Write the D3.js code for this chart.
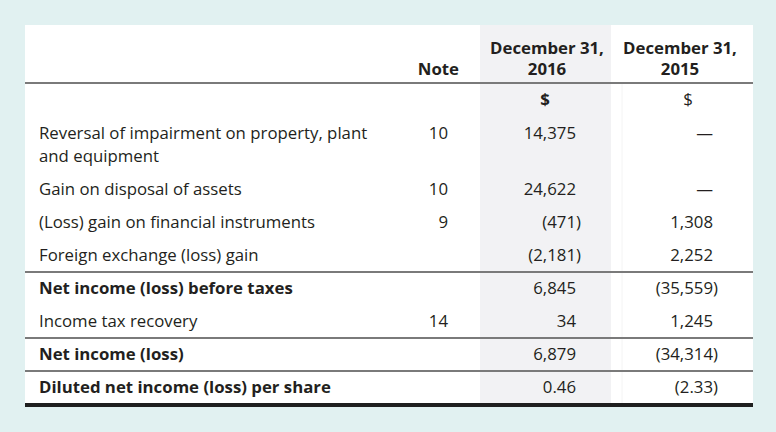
<!DOCTYPE html>
<html><head><meta charset="utf-8">
<script src="https://cdn.jsdelivr.net/npm/d3@7"></script>
<style>html,body{margin:0;padding:0;background:#e1f1f1;}svg{display:block;}</style>
</head><body>
<script>
// ---- data ----
const headers = ["Note", "December 31,\n2016", "December 31,\n2015"];
const currencyRow = ["$", "$"];
const labels = [
  "Reversal of impairment on property, plant\nand equipment",
  "Gain on disposal of assets",
  "(Loss) gain on financial instruments",
  "Foreign exchange (loss) gain",
  "Net income (loss) before taxes",
  "Income tax recovery",
  "Net income (loss)",
  "Diluted net income (loss) per share"
];
const notes = ["10", "10", "9", "", "", "14", "", ""];
const values2016 = [14375, 24622, -471, -2181, 6845, 34, 6879, 0.46];
const values2015 = [null, null, 1308, 2252, -35559, 1245, -34314, -2.33];
const boldRows = [false, false, false, false, true, false, true, true];
const ruleAfter = [false, false, false, true, false, true, true, false];
const perShare = [false, false, false, false, false, false, false, true];

// ---- layout ----
const W = 776, H = 432;
const font = "'Open Sans', sans-serif";
const fs = 16.8, lineH = 23, pitch = 33;
const ink = "#231f20";
const panel = {x: 25, y: 25, w: 728};
const colShade = {x0: 480, x1: 611};
const noteRight = 448, v16Right = 576, v15Right = 713;
const labelX = 39;

const svg = d3.select("body").append("svg").attr("width", W).attr("height", H);
svg.append("rect").attr("width", W).attr("height", H).attr("fill", "#e1f1f1");

// compute baselines
const baselines = [];
let y = 105 + 34;
labels.forEach((l, i) => {
  baselines.push(y);
  const nLines = l.split("\n").length;
  y += (nLines - 1) * lineH + pitch;
});
const bottomRule = baselines[baselines.length - 1] + 12;

svg.append("rect").attr("x", panel.x).attr("y", panel.y).attr("width", panel.w)
  .attr("height", bottomRule - panel.y).attr("fill", "#ffffff");
svg.append("rect").attr("x", colShade.x0).attr("y", panel.y).attr("width", colShade.x1 - colShade.x0)
  .attr("height", bottomRule - panel.y).attr("fill", "#f2f2f4");
svg.append("line").attr("x1", 622).attr("x2", 622).attr("y1", 84).attr("y2", bottomRule)
  .attr("stroke", "#f4f4f4").attr("stroke-width", 1);

const g = svg.append("g").attr("font-family", font).attr("font-size", fs).attr("fill", ink);

// header
const headerLine = 83;
g.append("text").attr("x", noteRight + 11).attr("y", 75).attr("text-anchor", "end")
  .attr("font-weight", 700).text(headers[0]);
[[headers[1], 547], [headers[2], 680]].forEach(([t, cx]) => {
  const tx = g.append("text").attr("text-anchor", "middle").attr("font-weight", 700);
  t.split("\n").forEach((s, k) => tx.append("tspan").attr("x", cx).attr("y", 54 + k * 21).text(s));
});
svg.append("line").attr("x1", panel.x).attr("x2", panel.x + panel.w).attr("y1", headerLine).attr("y2", headerLine)
  .attr("stroke", "#7a7a7a").attr("stroke-width", 2);

g.append("text").attr("x", 545).attr("y", 105).attr("text-anchor", "middle").attr("font-weight", 700).text(currencyRow[0]);
g.append("text").attr("x", 688).attr("y", 105).attr("text-anchor", "middle").text(currencyRow[1]);

const fmtInt = d3.format(",");
const fmtDec = d3.format(".2f");
function putValue(v, right, yb, ps) {
  if (v === null) {
    g.append("text").attr("x", right).attr("y", yb).attr("text-anchor", "end").text("\u2014");
    return;
  }
  const f = ps ? fmtDec : fmtInt;
  if (v < 0) {
    g.append("text").attr("x", right).attr("y", yb).attr("text-anchor", "end").text("(" + f(-v));
    g.append("text").attr("x", right).attr("y", yb).attr("text-anchor", "start").text(")");
  } else {
    g.append("text").attr("x", right).attr("y", yb).attr("text-anchor", "end").text(f(v));
  }
}

labels.forEach((l, i) => {
  const yb = baselines[i];
  const t = g.append("text").attr("font-weight", boldRows[i] ? 700 : 400);
  l.split("\n").forEach((s, k) => t.append("tspan").attr("x", labelX).attr("y", yb + k * lineH).text(s));
  if (notes[i]) g.append("text").attr("x", noteRight).attr("y", yb).attr("text-anchor", "end").text(notes[i]);
  putValue(values2016[i], v16Right, yb, perShare[i]);
  putValue(values2015[i], v15Right, yb, perShare[i]);
  if (ruleAfter[i]) {
    const ry = yb + 11;
    svg.append("line").attr("x1", panel.x).attr("x2", panel.x + panel.w).attr("y1", ry).attr("y2", ry)
      .attr("stroke", "#7a7a7a").attr("stroke-width", 2);
  }
});

svg.append("line").attr("x1", panel.x).attr("x2", panel.x + panel.w).attr("y1", bottomRule).attr("y2", bottomRule)
  .attr("stroke", "#1f1f1f").attr("stroke-width", 4);
</script>
</body></html>
